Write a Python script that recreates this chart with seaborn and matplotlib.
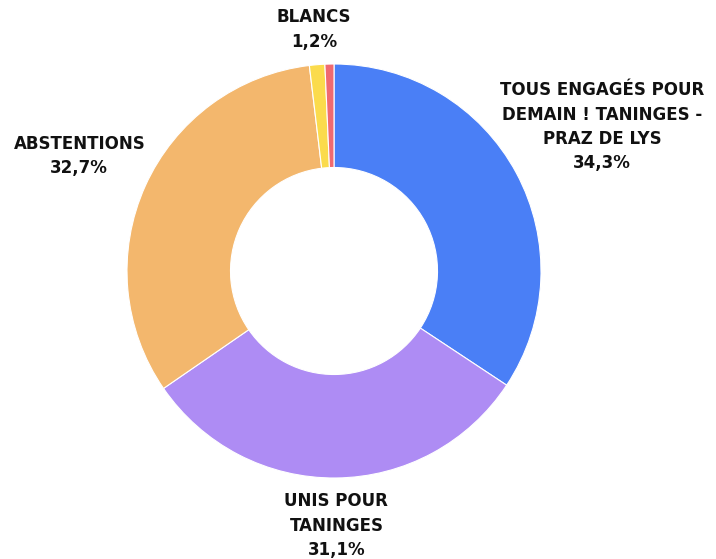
import matplotlib
matplotlib.use("Agg")
import matplotlib.pyplot as plt
import numpy as np
import seaborn as sns

sns.set_theme(style="white")
plt.rcParams['font.family'] = ['DejaVu Sans']

# data
labels = ["TOUS ENGAGÉS POUR\nDEMAIN ! TANINGES -\nPRAZ DE LYS", "UNIS POUR\nTANINGES",
          "ABSTENTIONS", "BLANCS", ""]
values = [34.3, 31.1, 32.7, 1.2, 0.7]
pct_text = ["34,3%", "31,1%", "32,7%", "1,2%", ""]
colors = ["#4a7ff6", "#ae8cf4", "#f3b76d", "#fbdb4c", "#f06a70"]

# label distance (in units of outer radius)
label_dist = [1.47, 1.23, 1.35, 1.17, 1.1]

fig = plt.figure(figsize=(7.16, 5.59), dpi=100)
ax = fig.add_axes([0, 0, 1, 1])

wedges, _ = ax.pie(values, colors=colors, startangle=90, counterclock=False,
                   radius=1.0, wedgeprops=dict(width=0.5, edgecolor="white", linewidth=0.8))

for w, lab, pct, d in zip(wedges, labels, pct_text, label_dist):
    if not lab:
        continue
    mid = np.deg2rad((w.theta1 + w.theta2) / 2)
    x, y = d * np.cos(mid), d * np.sin(mid)
    ax.text(x, y, lab + "\n" + pct, ha="center", va="center", fontsize=12,
            fontweight="bold", linespacing=1.45, color="#111111")

ax.set_aspect("equal")
ax.set_xlim(-334 / 207, (716 - 334) / 207)
ax.set_ylim(-(559 - 271) / 207, 271 / 207)
ax.axis("off")

fig.savefig("out.png", dpi=100, facecolor="white")
